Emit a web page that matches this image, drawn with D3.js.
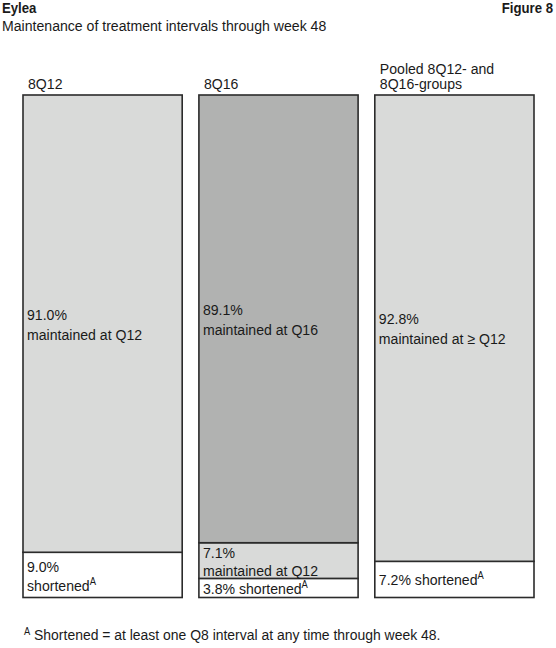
<!DOCTYPE html>
<html>
<head>
<meta charset="utf-8">
<script src="https://cdn.jsdelivr.net/npm/d3@7"></script>
<style>
  html, body { margin: 0; padding: 0; background: #fff; }
  svg { display: block; }
  text { font-family: "Liberation Sans Narrow", "Arial Narrow", "Liberation Sans", sans-serif; fill: #1a1a1a; }
</style>
</head>
<body>
<svg id="chart" width="556" height="648"></svg>
<script>
// ---- data ----
const groups = ["8Q12", "8Q16", "Pooled"];
const groupLabels = [["8Q12"], ["8Q16"], ["Pooled 8Q12- and", "8Q16-groups"]];
const maintainedMain = [91.0, 89.1, 92.8];
const maintainedQ12 = [0, 7.1, 0];
const shortened = [9.0, 3.8, 7.2];
const mainLabels = ["maintained at Q12", "maintained at Q16", "maintained at \u2265 Q12"];
const title = "Eylea";
const figureLabel = "Figure 8";
const subtitle = "Maintenance of treatment intervals through week 48";
const footnote = "Shortened = at least one Q8 interval at any time through week 48.";

// ---- layout ----
const svg = d3.select("#chart");
const x = d3.scaleBand().domain(groups).range([23, 534]).paddingInner(0.095).paddingOuter(0);
const y = d3.scaleLinear().domain([0, 100]).range([597.5, 95]);

const colLight = "#d9dad9", colDark = "#b1b2b1", stroke = "#2b2b2b";
const fs = 15, SX = 0.94;

function addText(px, py, size, str, opts = {}) {
  const t = svg.append("text")
    .attr("transform", `translate(${px},${py}) scale(${opts.sx || SX},1)`)
    .attr("font-size", size);
  if (opts.anchor) t.attr("text-anchor", opts.anchor);
  if (opts.bold) t.attr("font-weight", "bold");
  if (str !== null) t.text(str);
  return t;
}
function supA(t) {
  t.append("tspan").attr("font-size", 10).attr("dy", -6).text("A");
}

// header
addText(2, 13, 15, title, {bold: true, sx: 0.88});
addText(553, 13, 15, figureLabel, {bold: true, sx: 0.88, anchor: "end"});
addText(2, 31, 15, subtitle, {sx: 0.94});

// build segments
const segs = [];
groups.forEach((g, i) => {
  let base = 0;
  segs.push({g, i, kind: "short", y0: base, y1: base + shortened[i]});
  base += shortened[i];
  if (maintainedQ12[i] > 0) {
    segs.push({g, i, kind: "q12", y0: base, y1: base + maintainedQ12[i]});
    base += maintainedQ12[i];
  }
  segs.push({g, i, kind: "main", y0: base, y1: base + maintainedMain[i]});
});

const fillFor = d => d.kind === "short" ? "#ffffff" : d.kind === "q12" ? colLight : (d.i === 1 ? colDark : colLight);

svg.append("g").selectAll("rect").data(segs).join("rect")
  .attr("x", d => x(d.g))
  .attr("width", x.bandwidth())
  .attr("y", d => y(d.y1))
  .attr("height", d => y(d.y0) - y(d.y1))
  .attr("fill", fillFor)
  .attr("stroke", stroke)
  .attr("stroke-width", 1.6);

// group labels above bars
groups.forEach((g, i) => {
  const lines = groupLabels[i];
  lines.forEach((l, j) => {
    addText(x(g) + 5, 89 - (lines.length - 1 - j) * 15.5, fs, l);
  });
});

// segment labels
segs.forEach(d => {
  const cx = x(d.g) + 4;
  const mid = (y(d.y0) + y(d.y1)) / 2;
  const pct = d3.format(".1f")(d.y1 - d.y0) + "%";
  if (d.kind === "main") {
    addText(cx, mid - 4, fs, pct);
    addText(cx, mid + 16, fs, mainLabels[d.i]);
  } else if (d.kind === "q12") {
    addText(cx, mid - 3, fs, pct);
    addText(cx, mid + 15, fs, "maintained at Q12");
  } else {
    const h = y(d.y0) - y(d.y1);
    if (h > 40 && d.i === 0) {
      addText(cx, mid - 3, fs, pct);
      supA(addText(cx, mid + 16, fs, "shortened"));
    } else {
      supA(addText(cx, mid + 6, fs, pct + " shortened"));
    }
  }
});

// footnote
const fn = addText(24, 640, 15, null, {sx: 0.93});
fn.append("tspan").attr("font-size", 10).attr("dy", -5).text("A");
fn.append("tspan").attr("dy", 5).text(" " + footnote);
</script>
</body>
</html>
